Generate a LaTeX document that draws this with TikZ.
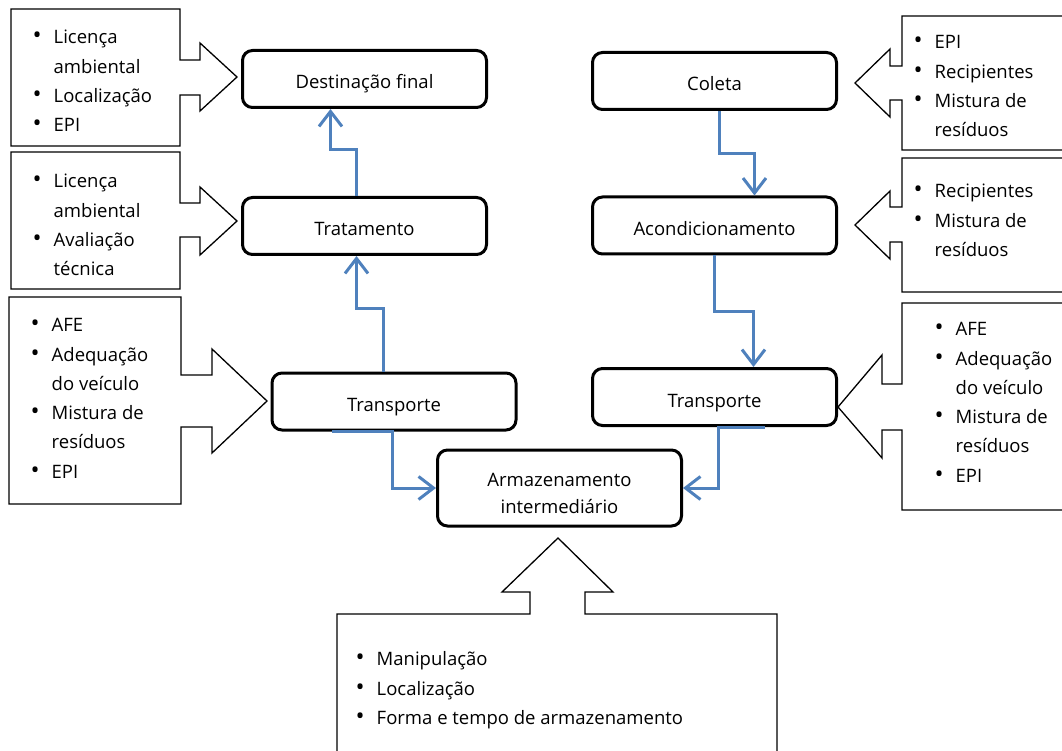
\documentclass[tikz,border=0pt]{standalone}
\usepackage{fontspec}
\usepackage{graphicx}
\setmainfont{Open Sans}
\usetikzlibrary{arrows.meta}
\definecolor{flowblue}{RGB}{79,129,189}
\tikzset{
  stage/.style={draw, line width=3pt, rounded corners=10pt, minimum width=244pt, minimum height=57pt, align=center, text height=24pt, text depth=4pt, font=\fontsize{18.5}{27.5}\selectfont},
  callout/.style={draw, line width=1.3pt, fill=white},
  lst/.style={anchor=north west, inner sep=0pt, font=\fontsize{18.5}{29.3}\selectfont},
  flow/.style={draw=flowblue, line width=3pt, -{Straight Barb[length=15pt,width=23pt]}}
}
\newcommand{\bul}{\makebox[8pt]{\scalebox{1.3}{\textbullet}}}
\newcommand{\bitems}[1]{\begin{tabular}{@{}l@{\hspace{12.5pt}}l@{}}#1\end{tabular}}
\begin{document}
\begin{tikzpicture}[x=1pt,y=-1pt]
    \useasboundingbox (0,0) rectangle (1062,751);

    %callouts, left side:
    \draw[callout] (11,9) -- (180,9) -- (180,60) -- (200,60) -- (200,43) -- (237,77) -- (200,111) -- (200,95) -- (180,95) -- (180,146) -- (11,146) -- cycle;
    \draw[callout] (11,152) -- (180,152) -- (180,203) -- (200,203) -- (200,187) -- (237,221) -- (200,255) -- (200,237) -- (180,237) -- (180,289) -- (11,289) -- cycle;
    \draw[callout] (9,297) -- (181,297) -- (181,375) -- (212,375) -- (212,349) -- (267,401) -- (212,453) -- (212,427) -- (181,427) -- (181,504) -- (9,504) -- cycle;

    %callouts, right side:
    \draw[callout] (1066,16) -- (902,16) -- (902,66) -- (890,66) -- (890,49) -- (855,83) -- (890,117) -- (890,100) -- (902,100) -- (902,150) -- (1066,150);
    \draw[callout] (1066,158) -- (902,158) -- (902,207) -- (890,207) -- (890,191) -- (855,225) -- (890,259) -- (890,242) -- (902,242) -- (902,292) -- (1066,292);
    \draw[callout] (1066,303) -- (902,303) -- (902,384) -- (882,384) -- (882,355) -- (838,407) -- (882,458) -- (882,430) -- (902,430) -- (902,510) -- (1066,510);

    %callout, bottom:
    \draw[callout] (337,755) -- (337,614) -- (530,614) -- (530,592) -- (502,592) -- (558,538) -- (613,592) -- (585,592) -- (585,614) -- (777,614) -- (777,755);

    %callout texts:
    \node[lst] (lDest) at (33,23) {\bitems{\bul & Licença\\ & ambiental\\ \bul & Localização\\ \bul & EPI}};
    \node[lst] (lTrat) at (33,167) {\bitems{\bul & Licença\\ & ambiental\\ \bul & Avaliação\\ & técnica}};
    \node[lst] (lTrans) at (31,311) {\bitems{\bul & AFE\\ \bul & Adequação\\ & do veículo\\ \bul & Mistura de\\ & resíduos\\ \bul & EPI}};
    \node[lst] (rCol) at (914,28) {\bitems{\bul & EPI\\ \bul & Recipientes\\ \bul & Mistura de\\ & resíduos}};
    \node[lst] (rAcond) at (914,177) {\bitems{\bul & Recipientes\\ \bul & Mistura de\\ & resíduos}};
    \node[lst] (rTrans) at (935,315) {\bitems{\bul & AFE\\ \bul & Adequação\\ & do veículo\\ \bul & Mistura de\\ & resíduos\\ \bul & EPI}};
    \node[lst] (bArm) at (356,645) {\bitems{\bul & Manipulação\\ \bul & Localização\\ \bul & Forma e tempo de armazenamento}};

    %stages:
    \node[stage] (dest) at (364.5,79) {Destinação final};
    \node[stage] (trat) at (364.5,226) {Tratamento};
    \node[stage] (trL) at (394,401.5) {Transporte};
    \node[stage, minimum height=76pt, text height=55pt] (arm) at (559.5,488) {Armazenamento\\intermediário};
    \node[stage] (col) at (714.5,81) {Coleta};
    \node[stage] (acond) at (714.5,225.5) {Acondicionamento};
    \node[stage] (trR) at (714.5,397) {Transporte};

    %flow:
    \draw[flow] ([xshift=5pt]col.south) |- ([xshift=40pt,yshift=42pt]acond.north) -- ([xshift=40pt]acond.north);
    \draw[flow] (acond.south) |- ([xshift=39pt,yshift=56pt]trR.north) -- ([xshift=39pt]trR.north);
    \draw[flow] ([xshift=50pt]trR.south) -- ([xshift=4pt]trR.south) |- (arm.east);
    \draw[flow] ([xshift=-62pt]trL.south) -- ([xshift=-2pt]trL.south) |- (arm.west);
    \draw[flow] ([xshift=-11pt]trL.north) |- ([xshift=-8pt,yshift=-52pt]trat.south) -- ([xshift=-8pt]trat.south);
    \draw[flow] ([xshift=-8pt]trat.north) |- ([xshift=-34pt,yshift=-41pt]dest.south) -- ([xshift=-34pt]dest.south);

\end{tikzpicture}
\end{document}
